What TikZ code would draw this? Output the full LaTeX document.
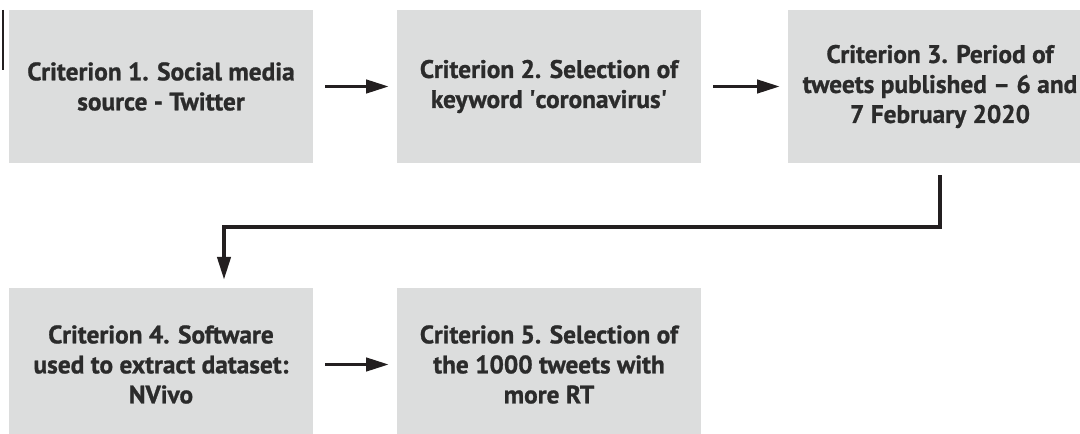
\documentclass[tikz,border=0pt]{standalone}
\usepackage{fontspec}
\setmainfont{PT Sans}[BoldFeatures={FakeBold=1}]
\usepackage{tikz}
\usetikzlibrary{positioning,arrows.meta,calc}
\usepackage{xcolor}
\definecolor{critgray}{HTML}{DCDDDD}
\definecolor{crittext}{HTML}{2B2B2B}
\definecolor{critline}{HTML}{231F20}

\begin{document}
\begin{tikzpicture}[x=0.75pt, y=-0.75pt,
    critBox/.style={fill=critgray, text=crittext, font=\fontsize{19}{22.5}\selectfont\bfseries, align=center, minimum width=228pt, minimum height=115pt, inner sep=0pt},
    arrowStyle/.style={-{Triangle[length=17pt,width=10pt]}, line width=2.5pt, draw=critline, shorten <=9pt, shorten >=6pt}
]
    \useasboundingbox (0,0) rectangle (1080,434);

    % Riga superiore
    \node[critBox] (c1) at (161,86.5) {Criterion 1. Social media\\source - Twitter};
    \node[critBox] (c2) at (549,86.5) {Criterion 2. Selection of\\keyword \textquotesingle coronavirus\textquotesingle};
    \node[critBox] (c3) at (940,86.5) {Criterion 3. Period of\\tweets published -- 6 and\\7 February 2020};

    % Riga inferiore
    \node[critBox] (c4) at (161,364.5) {Criterion 4. Software\\used to extract dataset:\\NVivo};
    \node[critBox] (c5) at (549,364.5) {Criterion 5. Selection of\\the 1000 tweets with\\more RT};

    % Bordo residuo
    \draw[line width=1pt, draw=critline] (3,10) -- (3,70);

    % Frecce
    \draw[arrowStyle] (c1) -- (c2);
    \draw[arrowStyle] (c2) -- (c3);
    \draw[arrowStyle] (c4) -- (c5);

    \coordinate (bend) at (224,227);
    \draw[arrowStyle] (c3.south) -- (c3.south |- bend) -- (bend) -- (bend |- c4.north);
\end{tikzpicture}
\end{document}
